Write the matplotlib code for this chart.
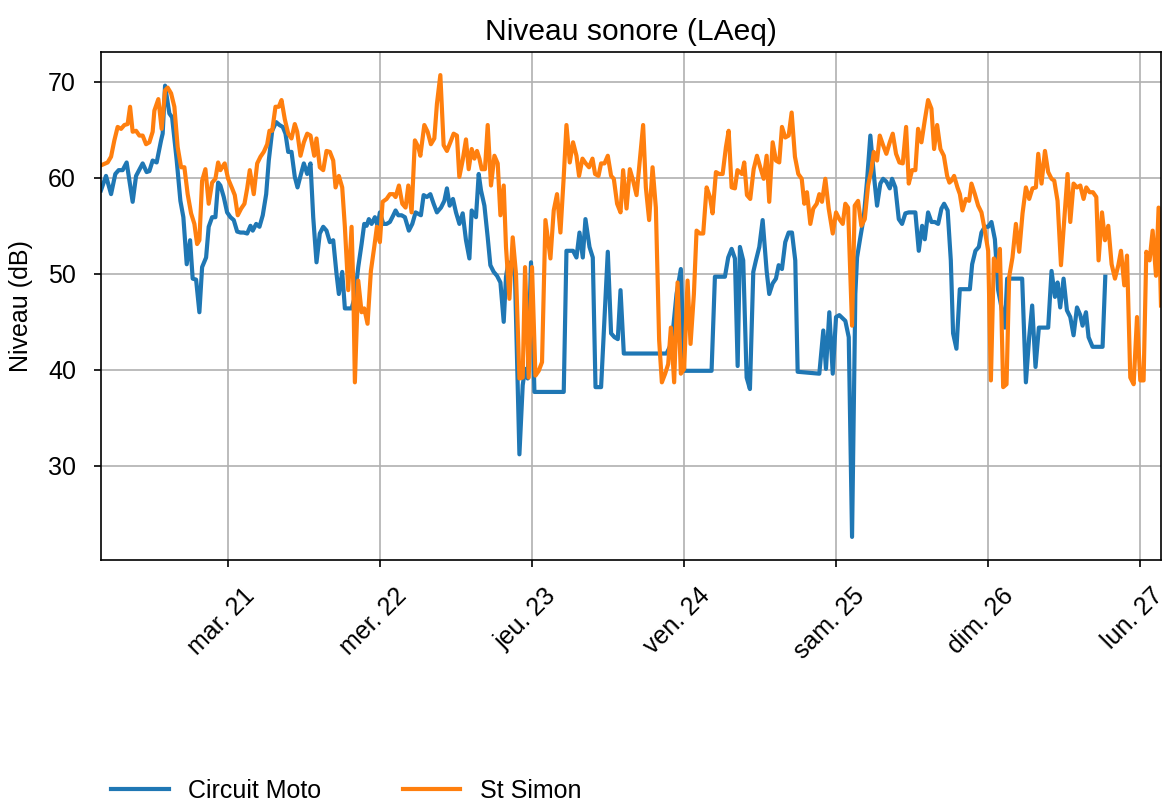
import matplotlib
matplotlib.use("Agg")
import matplotlib.pyplot as plt
import matplotlib.transforms as mtransforms
import numpy as np
import pandas as pd

plt.rcParams['font.family'] = ['Liberation Sans', 'DejaVu Sans']
plt.rcParams['font.size'] = 12

# Hours since 2023-03-20 00:00 and levels (dB)
moto_h = [3.87, 4.66, 5.46, 6.13, 6.66, 7.29, 7.92, 8.87, 9.41, 10.45, 11.08, 11.51, 12.03, 12.66,
          13.36, 13.61, 13.99, 14.67, 15.10, 15.83, 16.41, 16.88, 17.41, 17.94, 18.35, 18.89, 19.41,
          19.84, 20.47, 20.88, 21.42, 21.94, 22.37, 22.73, 23.26, 23.79, 24.32, 24.84, 25.38, 25.90,
          26.42, 26.96, 27.48, 27.84, 28.38, 28.90, 29.42, 29.96, 30.37, 30.91, 31.54, 32.06, 32.58,
          33.01, 33.44, 33.96, 34.48, 34.91, 35.38, 35.91, 36.44, 36.96, 37.39, 37.91, 38.43, 38.97,
          39.49, 40.02, 40.55, 41.07, 41.44, 41.97, 42.39, 43.45, 43.97, 44.50, 45.03, 45.45, 45.82,
          46.18, 46.61, 47.13, 47.56, 47.92, 48.46, 48.98, 49.50, 50.04, 50.40, 50.83, 51.35, 51.87,
          52.50, 53.04, 53.56, 54.40, 54.83, 55.35, 55.89, 56.41, 56.93, 57.57, 58.10, 58.51, 58.94,
          59.46, 59.94, 60.48, 61.00, 61.52, 62.06, 62.42, 63.10, 63.53, 63.89, 64.43, 64.95, 65.37,
          65.90, 66.42, 66.96, 67.48, 67.84, 68.22, 68.74, 69.26, 69.96, 70.48, 70.85, 71.27, 71.79,
          72.33, 76.96, 77.39, 78.43, 78.97, 79.45, 79.97, 80.39, 81.03, 81.55, 81.98, 82.86, 83.92,
          84.44, 84.98, 85.50, 85.93, 86.45, 93.20, 93.72, 94.25, 94.78, 95.46, 95.98, 100.31, 100.84,
          102.42, 102.94, 103.48, 104.00, 104.43, 104.79, 105.31, 105.85, 106.37, 106.90, 107.32,
          107.85, 108.38, 109.01, 109.42, 109.96, 110.48, 110.91, 111.43, 111.95, 112.49, 113.01,
          113.53, 113.91, 117.33, 117.96, 118.38, 118.91, 119.45, 119.97, 120.49, 121.44, 121.98,
          122.50, 123.02, 123.29, 123.81, 124.35, 124.87, 125.39, 125.93, 126.45, 126.97, 127.40,
          127.92, 128.46, 128.82, 129.34, 129.88, 130.40, 130.92, 131.46, 132.50, 133.04, 133.57,
          133.99, 134.51, 135.04, 135.57, 136.10, 136.62, 137.04, 137.60, 138.10, 138.46, 138.99,
          139.52, 141.11, 141.47, 141.99, 142.53, 142.94, 143.48, 144.00, 144.52, 145.06, 145.58,
          146.10, 146.64, 147.00, 149.37, 149.96, 150.48, 150.95, 151.48, 152.01, 153.48, 154.01,
          154.55, 154.96, 155.38, 155.91, 156.44, 156.97, 157.49, 158.03, 158.55, 158.91, 159.45,
          159.86, 160.49, 162.07, 162.50]
moto_db = [58.7, 60.2, 58.3, 60.4, 60.8, 60.8, 61.6, 57.5, 60.2, 61.5, 60.6, 60.7, 61.8, 61.6,
           63.9, 64.6, 69.6, 66.7, 66.3, 61.8, 57.6, 55.9, 51.0, 53.5, 49.5, 49.4, 46.0,
           50.7, 51.7, 54.9, 55.9, 55.9, 59.5, 59.2, 58.0, 56.4, 55.9, 55.6, 54.4, 54.3,
           54.3, 54.2, 55.0, 54.5, 55.2, 54.9, 56.1, 58.3, 61.8, 64.9, 65.8, 65.5, 65.3,
           64.6, 62.7, 62.7, 60.1, 59.0, 60.2, 61.5, 60.4, 61.5, 55.9, 51.2, 54.2, 54.9,
           54.5, 53.3, 53.5, 50.0, 47.9, 50.2, 46.4, 46.4, 47.6, 50.7, 53.1, 55.2, 55.0,
           55.7, 55.2, 55.9, 55.0, 56.4, 55.2, 55.2, 55.4, 56.1, 56.6, 56.1, 56.1, 55.9,
           54.5, 55.2, 56.4, 56.1, 58.2, 58.0, 58.3, 57.3, 56.4, 56.9, 57.6, 58.9, 57.1,
           57.8, 56.4, 55.2, 56.3, 53.5, 51.6, 56.6, 55.9, 60.4, 58.7, 57.1, 53.8, 50.9,
           50.2, 49.8, 49.1, 45.0, 49.7, 51.2, 51.0, 49.7, 31.2, 38.4, 40.1, 39.1, 51.2,
           37.7, 37.7, 52.4, 52.4, 51.7, 54.3, 51.7, 55.7, 52.8, 51.7, 38.2, 38.2, 52.3,
           43.8, 43.4, 43.2, 48.3, 41.7, 41.7, 42.4, 44.4, 47.9, 50.5, 39.9, 39.9, 49.7,
           49.7, 51.7, 52.6, 51.6, 40.4, 52.8, 51.4, 39.2, 38.0, 50.2, 51.4,
           52.8, 55.6, 50.3, 47.9, 49.0, 49.5, 50.9, 50.5, 53.3, 54.3, 54.3,
           51.4, 39.8, 39.6, 44.1, 40.1, 46.0, 39.6, 45.5, 45.7, 45.1, 43.4,
           22.6, 47.9, 51.7, 53.8, 55.9, 59.7, 64.4, 60.4, 57.1, 59.4, 59.9,
           59.6, 58.9, 59.9, 59.0, 55.7, 55.2, 56.3, 56.4, 56.4, 52.4, 55.0,
           53.6, 56.4, 55.4, 55.4, 55.2, 56.8, 57.3, 56.6, 51.4, 43.8, 42.2,
           48.4, 48.4, 51.0, 52.4, 52.8, 54.3, 54.9, 54.9, 55.4, 53.6, 48.3,
           46.5, 44.4, 49.5, 49.5, 38.7, 43.4, 46.7, 40.3, 44.4, 44.4, 50.3,
           47.6, 49.1, 46.5, 49.5, 46.2, 45.5, 43.6, 46.5, 45.7, 44.6, 46.0,
           43.4, 42.4, 42.4, 49.7]

simon_h = [3.87, 4.92, 5.46, 5.98, 6.50, 7.04, 7.56, 8.08, 8.46, 8.87, 9.41, 9.93, 10.45, 10.99,
           11.51, 12.03, 12.30, 12.93, 13.45, 13.99, 14.40, 14.94, 15.46, 15.98, 16.52, 17.04, 17.56,
           18.10, 18.62, 19.05, 19.41, 19.84, 20.36, 20.88, 21.42, 21.94, 22.37, 22.73, 23.10, 23.41,
           23.95, 24.58, 25.00, 25.47, 26.01, 26.53, 26.96, 27.37, 28.00, 28.54, 29.06, 29.58, 30.12,
           30.48, 30.91, 31.43, 31.95, 32.38, 32.90, 33.44, 33.96, 34.48, 34.86, 35.38, 35.91, 36.44,
           36.96, 37.55, 37.91, 38.43, 38.97, 39.49, 40.02, 40.55, 40.92, 41.44, 41.97, 42.39, 42.92,
           43.45, 43.71, 43.97, 44.50, 45.03, 45.45, 45.97, 46.50, 47.03, 47.45, 47.92, 48.35, 48.98,
           49.50, 50.04, 50.40, 50.93, 51.46, 51.98, 52.41, 52.93, 53.45, 53.99, 54.31, 54.94, 55.46,
           55.98, 56.52, 56.93, 57.47, 57.99, 58.51, 59.05, 59.57, 60.09, 60.47, 60.99, 61.52, 61.95,
           62.42, 62.85, 63.26, 63.64, 64.00, 64.52, 64.95, 65.47, 66.01, 66.53, 66.96, 67.48, 67.84,
           68.38, 68.90, 69.42, 69.96, 70.48, 70.85, 71.43, 71.95, 72.49, 73.01, 73.53, 74.07, 74.86,
           75.38, 75.90, 76.44, 76.96, 77.39, 77.91, 78.43, 78.97, 79.38, 79.92, 80.44, 80.96, 81.50,
           81.91, 82.45, 82.86, 83.40, 83.92, 84.44, 84.87, 85.39, 85.93, 86.34, 86.88, 87.40, 87.92,
           88.46, 88.98, 89.50, 89.93, 90.45, 90.99, 91.51, 92.03, 92.46, 92.98, 93.46, 93.88, 94.40,
           94.94, 95.46, 95.98, 96.52, 96.99, 97.52, 97.94, 98.47, 98.99, 99.53, 100.05, 100.47,
           101.00, 101.52, 102.06, 102.58, 103.01, 103.48, 104.00, 104.40, 105.10, 105.47, 105.90,
           106.42, 106.96, 107.48, 108.00, 108.54, 109.01, 109.42, 109.96, 110.48, 111.00, 111.43,
           111.95, 112.49, 112.96, 113.48, 114.01, 114.55, 114.96, 115.38, 115.91, 116.38, 116.92,
           117.33, 117.75, 118.28, 118.81, 119.45, 119.97, 120.49, 121.03, 121.44, 121.87, 122.50,
           122.92, 123.45, 123.97, 124.51, 125.03, 125.55, 125.93, 126.45, 126.88, 127.40, 127.92,
           128.46, 128.93, 129.45, 129.98, 130.51, 131.04, 131.46, 131.98, 132.50, 132.93, 133.46,
           133.99, 134.51, 135.04, 135.46, 135.94, 136.46, 137.00, 137.52, 137.88, 138.20, 138.62,
           139.15, 139.53, 139.94, 140.47, 140.99, 141.36, 141.90, 142.42, 142.94, 143.48, 144.00,
           144.43, 144.90, 145.42, 145.85, 146.37, 146.90, 147.32, 147.84, 148.38, 148.90, 149.43,
           149.96, 150.48, 151.00, 151.54, 151.91, 152.43, 152.97, 153.48, 154.01, 154.44, 154.96,
           155.50, 156.02, 156.54, 156.97, 157.49, 158.03, 158.55, 159.07, 159.50, 160.02, 160.55,
           161.08, 161.44, 161.98, 162.45, 162.97, 163.50, 164.03, 164.56, 164.98, 165.50, 165.93,
           166.45, 166.98, 167.51, 168.03, 168.55, 168.98, 169.50, 169.98, 170.51, 170.92, 171.30]
simon_db = [61.3, 61.6, 62.2, 63.9, 65.3, 65.1, 65.5, 65.6, 67.4, 64.8, 64.9, 64.4, 64.4, 63.5,
            63.7, 64.8, 67.0, 68.2, 65.1, 69.1, 69.4, 68.8, 67.4, 63.2, 61.1, 61.1, 58.3,
            56.3, 55.2, 53.1, 53.5, 59.7, 60.9, 57.3, 59.5, 59.9, 61.6, 60.8, 61.2, 61.5,
            59.9, 58.9, 58.2, 56.1, 56.8, 57.3, 58.9, 60.8, 58.3, 61.5, 62.2, 62.7, 63.5,
            64.9, 64.9, 67.4, 67.4, 68.1, 66.1, 64.6, 64.1, 65.6, 64.8, 62.3, 63.7, 64.6,
            64.4, 62.3, 64.1, 61.1, 60.8, 62.8, 62.7, 61.8, 59.0, 60.2, 59.0, 54.9, 48.3,
            54.9, 49.0, 38.7, 49.3, 46.0, 46.4, 44.8, 50.3, 52.8, 54.9, 53.3, 57.5, 57.8,
            58.3, 58.3, 58.0, 59.2, 57.3, 56.9, 59.2, 56.4, 63.9, 63.2, 62.3, 65.5, 64.8,
            63.5, 64.1, 67.7, 70.7, 63.4, 62.8, 63.7, 64.6, 64.4, 60.1, 61.8, 64.0, 60.9,
            63.0, 62.0, 62.8, 62.0, 60.9, 60.9, 65.5, 59.2, 62.3, 61.5, 56.1, 59.2, 52.8,
            47.4, 53.8, 50.0, 39.1, 39.2, 50.7, 39.2, 50.7, 39.4, 39.9, 40.8, 55.6, 51.6,
            56.6, 58.3, 54.3, 60.1, 65.5, 61.6, 63.7, 62.3, 60.2, 62.0, 61.5, 61.1, 62.0,
            60.4, 60.2, 61.5, 61.5, 62.3, 60.2, 59.9, 57.3, 56.4, 60.8, 56.8, 60.9, 59.7,
            58.2, 61.8, 65.5, 59.0, 55.6, 61.1, 56.9, 43.1, 38.7, 39.6, 40.6, 44.4, 38.7,
            49.1, 39.6, 40.1, 49.3, 42.7, 47.9, 54.5, 54.2, 54.2, 59.0, 58.0, 56.3,
            60.6, 60.4, 60.4, 63.2, 64.9, 59.0, 58.9, 60.8, 60.4, 61.6, 58.2,
            57.8, 60.9, 62.3, 61.1, 59.9, 62.3, 57.5, 63.7, 61.8, 61.6, 65.3,
            64.2, 64.4, 66.8, 62.2, 60.4, 59.9, 57.3, 58.5, 55.2, 56.8, 57.3,
            58.3, 57.5, 59.9, 56.8, 54.2, 56.4, 55.7, 55.2, 57.3, 56.9, 44.6,
            57.1, 57.6, 55.0, 55.7, 59.2, 60.8, 62.7, 61.8, 64.4, 63.4, 62.5,
            63.7, 64.6, 62.5, 61.6, 61.5, 65.3, 59.4, 60.8, 60.8, 65.1, 63.7,
            66.0, 68.1, 67.2, 63.0, 65.5, 63.0, 62.3, 60.2, 59.5, 59.7, 60.2,
            59.0, 58.3, 56.6, 57.8, 57.6, 59.4, 58.3, 57.1, 56.4, 54.5, 52.4,
            38.9, 51.6, 50.3, 52.6, 38.2, 38.5, 49.7, 51.7, 55.2, 52.3, 56.3,
            59.0, 57.8, 58.9, 59.0, 62.5, 59.4, 62.8, 60.6, 59.9, 59.7, 57.6,
            50.9, 55.6, 60.4, 55.4, 59.4, 59.0, 59.2, 57.8, 59.0, 58.5, 58.5,
            58.0, 51.4, 56.4, 53.5, 55.0, 51.0, 49.5, 50.9, 52.4, 48.8, 51.9,
            39.2, 38.5, 45.5, 38.9, 38.9, 52.3, 51.4, 54.5, 49.8, 56.9, 46.7]

series_labels = ["Circuit Moto", "St Simon"]
tick_days = ["2023-03-21", "2023-03-22", "2023-03-23", "2023-03-24",
             "2023-03-25", "2023-03-26", "2023-03-27"]
tick_labels = ["mar. 21", "mer. 22", "jeu. 23", "ven. 24", "sam. 25", "dim. 26", "lun. 27"]
y_ticks = [30, 40, 50, 60, 70]

base = pd.Timestamp("2023-03-20")
t_moto = base + pd.to_timedelta(moto_h, unit="h")
t_simon = base + pd.to_timedelta(simon_h, unit="h")

fig = plt.figure(figsize=(1168 / 150, 803 / 150), dpi=150)
ax = fig.add_axes([101 / 1168, 1 - 560 / 803, (1161 - 101) / 1168, (560 - 52) / 803])

ax.plot(t_moto, moto_db, color="#1f77b4", lw=2.0, label=series_labels[0])
ax.plot(t_simon, simon_db, color="#ff7f0e", lw=2.0, label=series_labels[1])

ax.set_xlim(t_simon[0], t_simon[-1])
ax.set_xticks(pd.to_datetime(tick_days))
ax.set_xticklabels(tick_labels, rotation=45)
ax.set_yticks(y_ticks)
ax.tick_params(axis="y", pad=8.5)
ax.tick_params(axis="x", pad=3.5)
shift = mtransforms.ScaledTranslation(-7 / 150, -9 / 150, fig.dpi_scale_trans)
for lab in ax.get_xticklabels():
    lab.set_transform(lab.get_transform() + shift)
ax.grid(True, color="#b0b0b0", lw=0.8)
ax.set_axisbelow(True)
ax.set_ylabel("Niveau (dB)", labelpad=7)
ax.set_title("Niveau sonore (LAeq)", fontsize=14.4)

ax.legend(loc="upper left", bbox_to_anchor=(0.0, -0.411), ncol=2, frameon=False,
          borderaxespad=0.0, handlelength=2.3, columnspacing=3.25)

fig.savefig("out.png", dpi=150)
